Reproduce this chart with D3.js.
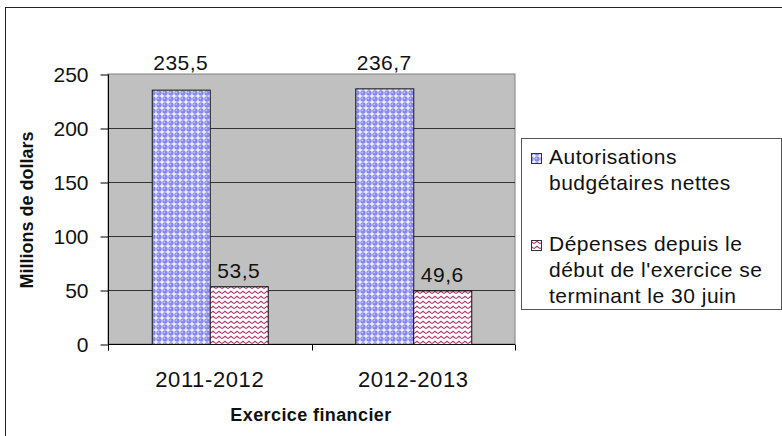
<!DOCTYPE html>
<html>
<head>
<meta charset="utf-8">
<script src="https://cdn.jsdelivr.net/npm/d3@7"></script>
<style>
  body { margin: 0; background: #fff; }
  svg { display: block; font-family: Arial, "Liberation Sans", sans-serif; }
</style>
</head>
<body>
<svg width="782" height="436"></svg>
<script>
// data
const categories = ['2011-2012', '2012-2013'];
const autorisations = [235.5, 236.7];
const depenses = [53.5, 49.6];
const yTicks = [0, 50, 100, 150, 200, 250];
const seriesNames = [
    ['Autorisations', 'budgétaires nettes'],
    ['Dépenses depuis le', 'début de l\'exercice se', 'terminant le 30 juin']
];

(function (d3) {
    const svg = d3.select('svg');
    const width = +svg.attr('width');
    const height = +svg.attr('height');

    // french decimal comma
    const fmt = d3.formatLocale({decimal: ',', thousands: ' ', grouping: [3], currency: ['', '$']}).format('.1f');

    const defs = svg.append('defs');
    // blue dotted pattern
    const dots = defs.append('pattern')
        .attr('id', 'dots')
        .attr('patternUnits', 'userSpaceOnUse')
        .attr('width', 6).attr('height', 6);
    dots.append('rect').attr('width', 6).attr('height', 6).attr('fill', '#f2f2ff');
    dots.append('circle').attr('cx', 3).attr('cy', 3).attr('r', 2.7).attr('fill', '#8888f2');
    dots.append('circle').attr('cx', 2.3).attr('cy', 2.3).attr('r', 0.9).attr('fill', '#c4c4ff');
    // red zigzag pattern
    const zig = defs.append('pattern')
        .attr('id', 'zig')
        .attr('patternUnits', 'userSpaceOnUse')
        .attr('width', 6).attr('height', 5);
    zig.append('rect').attr('width', 6).attr('height', 5).attr('fill', '#fff');
    zig.append('path')
        .attr('d', 'M0,3.6 L3,1.2 L6,3.6')
        .attr('fill', 'none')
        .attr('stroke', '#b0336a')
        .attr('stroke-width', 1.1);

    // outer frame (right/bottom run off the picture)
    svg.append('rect')
        .attr('x', 5.5).attr('y', 7.5)
        .attr('width', width + 20).attr('height', height + 20)
        .attr('fill', 'none')
        .attr('stroke', '#222');

    const x0 = d3.scaleBand().domain(categories).range([108, 515])
        .paddingInner(0.43).paddingOuter(0.215);
    const x1 = d3.scaleBand().domain([0, 1]).range([0, x0.bandwidth()]);
    const y = d3.scaleLinear().domain([0, 250]).range([344, 74]);

    // plot area
    svg.append('rect')
        .attr('x', 108).attr('y', y(250))
        .attr('width', 515 - 108).attr('height', y(0) - y(250))
        .attr('fill', '#c0c0c0')
        .attr('stroke', '#808080');

    // gridlines
    svg.append('g')
        .selectAll('line')
        .data(yTicks.filter(d => d > 0 && d < 250))
        .join('line')
        .attr('x1', 108).attr('x2', 515)
        .attr('y1', d => y(d) + 0.5).attr('y2', d => y(d) + 0.5)
        .attr('stroke', '#333');

    // y axis
    const yAxis = svg.append('g')
        .attr('transform', 'translate(108.5,0.5)')
        .call(d3.axisLeft(y).tickValues(yTicks).tickSize(8).tickPadding(12).tickFormat(d3.format('d')));
    yAxis.select('.domain').attr('d', `M0,${y(250)}V${y(0) + 6}`).attr('stroke', '#000');
    yAxis.selectAll('.tick line').attr('stroke', '#000');
    yAxis.selectAll('text')
        .attr('font-size', 21)
        .attr('font-family', 'Arial, "Liberation Sans", sans-serif')
        .attr('fill', '#111');

    // x axis
    const xAxis = svg.append('g')
        .attr('transform', `translate(0,${y(0) + 0.5})`);
    xAxis.append('line')
        .attr('x1', 108).attr('x2', 515)
        .attr('stroke', '#000');
    xAxis.selectAll('line.tk')
        .data([108, ...categories.map(c => x0(c) + x0.bandwidth() / 2 + x0.step() / 2)])
        .join('line')
        .attr('class', 'tk')
        .attr('x1', d => Math.round(d) + 0.5).attr('x2', d => Math.round(d) + 0.5)
        .attr('y1', 0).attr('y2', 6)
        .attr('stroke', '#000');
    xAxis.selectAll('text')
        .data(categories)
        .join('text')
        .attr('x', d => x0(d) + x0.bandwidth() / 2)
        .attr('y', 42)
        .attr('text-anchor', 'middle')
        .attr('font-size', 22)
        .attr('letter-spacing', 0.6)
        .attr('fill', '#111')
        .text(d => d);

    // bars
    const series = [
        {values: autorisations, fill: 'url(#dots)'},
        {values: depenses, fill: 'url(#zig)'}
    ];
    series.forEach((s, i) => {
        const g = svg.append('g');
        g.selectAll('rect')
            .data(s.values)
            .join('rect')
            .attr('x', (d, j) => x0(categories[j]) + x1(i) + 0.5)
            .attr('y', d => y(d) + 0.5)
            .attr('width', x1.bandwidth())
            .attr('height', d => y(0) - y(d))
            .attr('fill', s.fill)
            .attr('stroke', '#111');
        // label sits above the bar, or above the plot frame when the bar is tall
        g.selectAll('text')
            .data(s.values)
            .join('text')
            .attr('x', (d, j) => x0(categories[j]) + x1(i) + x1.bandwidth() / 2)
            .attr('y', d => (y(d) - 24 < y(250)) ? y(250) - 4 : y(d) - 8)
            .attr('text-anchor', 'middle')
            .attr('font-size', 21)
            .attr('letter-spacing', 0.5)
            .attr('fill', '#111')
            .text(d => fmt(d));
    });

    // axis titles
    svg.append('text')
        .attr('x', 311).attr('y', 421)
        .attr('text-anchor', 'middle')
        .attr('font-size', 18)
        .attr('font-weight', 'bold')
        .attr('letter-spacing', 0.4)
        .attr('fill', '#111')
        .text('Exercice financier');
    svg.append('text')
        .attr('transform', 'translate(33,210) rotate(-90)')
        .attr('text-anchor', 'middle')
        .attr('font-size', 18)
        .attr('font-weight', 'bold')
        .attr('fill', '#111')
        .text('Millions de dollars');

    // legend
    const legend = svg.append('g');
    legend.append('rect')
        .attr('x', 521.5).attr('y', 138.5)
        .attr('width', 260).attr('height', 171)
        .attr('fill', '#fff')
        .attr('stroke', '#555');
    const legendTop = [153, 240];
    seriesNames.forEach((lines, i) => {
        legend.append('rect')
            .attr('x', 531.5).attr('y', legendTop[i] + 0.5)
            .attr('width', 10).attr('height', 10)
            .attr('fill', series[i].fill)
            .attr('stroke', '#333');
        legend.append('text')
            .attr('font-size', 21)
            .attr('letter-spacing', 0.5)
            .attr('fill', '#111')
            .selectAll('tspan')
            .data(lines)
            .join('tspan')
            .attr('x', 549)
            .attr('y', (d, k) => legendTop[i] + 11 + k * 26)
            .text(d => d);
    });
}(d3));
</script>
</body>
</html>
